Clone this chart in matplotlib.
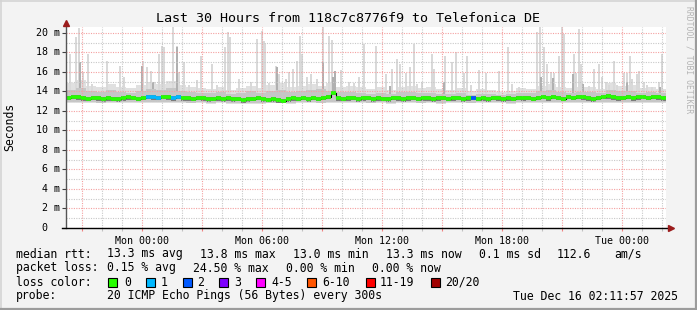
import datetime as dt

import matplotlib
matplotlib.use("Agg")
import matplotlib.dates as mdates
import matplotlib.pyplot as plt
from matplotlib.lines import Line2D
from matplotlib.patches import Rectangle
from matplotlib.ticker import FuncFormatter, MultipleLocator
from matplotlib import transforms

W, H = 697, 310
MONO = "DejaVu Sans Mono"

start = dt.datetime(2025, 12, 14, 20, 11, 57)
end = start + dt.timedelta(hours=30)

# smoke envelope, one value per 30 minutes
band_top = [14.9, 15.2, 14.6, 14.5, 14.8, 14.4, 14.3, 14.7, 15.0, 14.8, 15.1, 14.7,
            14.4, 14.3, 14.2, 14.5, 14.1, 14.3, 14.6, 14.3, 14.7, 14.9, 14.5, 14.6,
            14.8, 14.6, 14.9, 14.5, 14.6, 14.4, 14.2, 14.4, 14.1, 14.5, 14.6, 14.3,
            14.4, 14.2, 14.1, 14.3, 14.0, 14.2, 14.1, 13.9, 14.0, 14.3, 14.2, 14.6,
            14.8, 14.4, 14.3, 14.5, 14.4, 14.2, 14.9, 14.6, 14.7, 14.3, 14.4, 14.2]
band_mid = [14.1, 14.3, 14.0, 13.9, 14.1, 13.9, 13.8, 14.0, 14.2, 14.1, 14.3, 14.0,
            13.9, 13.8, 13.8, 13.9, 13.7, 13.8, 14.0, 13.8, 14.0, 14.1, 13.9, 14.0,
            14.1, 14.2, 14.0, 13.9, 13.9, 13.8, 13.7, 13.8, 13.7, 13.9, 13.9, 13.8,
            13.8, 13.7, 13.7, 13.8, 13.6, 13.7, 13.7, 13.6, 13.7, 13.8, 13.8, 14.0,
            14.1, 13.9, 13.8, 13.9, 13.9, 13.8, 14.1, 14.0, 14.0, 13.8, 13.9, 13.8]
band_bot = [12.80, 12.78, 12.82, 12.76, 12.80, 12.79, 12.81, 12.77, 12.80, 12.83, 12.79, 12.80,
            12.76, 12.78, 12.74, 12.77, 12.72, 12.75, 12.70, 12.73, 12.76, 12.78, 12.75, 12.77,
            12.79, 12.76, 12.78, 12.80, 12.77, 12.79, 12.76, 12.78, 12.75, 12.77, 12.79, 12.76,
            12.78, 12.75, 12.77, 12.79, 12.76, 12.78, 12.80, 12.77, 12.75, 12.78, 12.80, 12.82,
            12.84, 12.80, 12.82, 12.79, 12.81, 12.83, 12.80, 12.85, 12.82, 12.84, 12.81, 12.83]

# median rtt (ms), one value per 15 minutes
median = [13.32, 13.42, 13.38, 13.30, 13.22, 13.34, 13.28, 13.20,
          13.30, 13.26, 13.18, 13.30, 13.40, 13.32, 13.24, 13.36,
          13.42, 13.38, 13.34, 13.44, 13.40, 13.30, 13.42, 13.28,
          13.30, 13.22, 13.32, 13.28, 13.18, 13.24, 13.30, 13.20,
          13.28, 13.18, 13.22, 13.10, 13.20, 13.24, 13.32, 13.20,
          13.12, 13.20, 13.08, 13.02, 13.18, 13.30, 13.22, 13.34,
          13.20, 13.32, 13.24, 13.36, 13.42, 13.84, 13.30, 13.22,
          13.30, 13.34, 13.20, 13.28, 13.32, 13.18, 13.30, 13.26,
          13.20, 13.32, 13.28, 13.18, 13.30, 13.34, 13.22, 13.30,
          13.28, 13.20, 13.30, 13.34, 13.22, 13.28, 13.32, 13.18,
          13.30, 13.34, 13.22, 13.30, 13.20, 13.32, 13.28, 13.18,
          13.30, 13.22, 13.34, 13.28, 13.36, 13.24, 13.32, 13.42,
          13.30, 13.44, 13.34, 13.22, 13.46, 13.32, 13.42, 13.38,
          13.30, 13.20, 13.34, 13.42, 13.50, 13.40, 13.28, 13.36,
          13.44, 13.30, 13.40, 13.46, 13.32, 13.42, 13.38, 13.30]

# slots (15 min) with lost pings and how many were lost
loss_slots = [16, 17, 18, 21, 22, 81]
loss_counts = [1, 1, 1, 1, 1, 2]

# outlier pings: hours after start, top value (ms)
spike_hours = [0.2, 0.5, 0.65, 0.85, 1.1, 1.3, 2.05, 2.7, 2.9, 3.85, 4.05, 4.25, 4.65, 4.8, 4.9,
               5.35, 5.55, 5.65, 5.9, 6.15, 6.55, 6.75, 7.3, 7.55, 7.95, 8.1, 8.2, 8.65, 9.25,
               9.55, 9.8, 9.9, 9.95, 10.15, 10.5, 10.65, 11.0, 11.15, 11.35, 11.55, 11.7, 11.8,
               12.05, 12.25, 12.55, 12.85, 13.15, 13.3, 13.75, 14.15, 14.4, 14.65, 14.9, 15.5,
               16.0, 16.3, 16.55, 16.7, 17.0, 17.2, 17.4, 17.55, 17.8, 18.3, 18.4, 18.95, 19.3,
               19.5, 19.9, 20.05, 20.25, 20.65, 21.0, 21.65, 22.1, 22.3, 22.65, 23.55, 23.7,
               23.9, 24.05, 24.25, 24.4, 24.65, 24.8, 24.9, 25.4, 25.5, 25.65, 25.75, 26.15,
               26.4, 26.65, 26.8, 27.0, 27.15, 27.4, 27.55, 27.9, 28.05, 28.2, 28.3, 28.55,
               28.65, 28.9, 29.05, 29.3, 29.65, 29.8]
spike_tops = [17.8, 19.6, 20.5, 16.0, 17.8, 14.8, 17.1, 16.6, 15.5, 17.1, 16.5, 16.1, 17.8, 18.7, 18.5,
              20.6, 18.7, 16.0, 17.0, 14.7, 15.2, 17.6, 16.8, 14.7, 18.6, 20.1, 19.6, 15.3, 15.0,
              19.4, 20.2, 19.2, 19.0, 14.9, 16.6, 15.8, 15.3, 16.0, 16.3, 17.1, 19.7, 17.8,
              15.5, 15.8, 15.3, 20.7, 19.7, 19.3, 16.2, 15.0, 14.9, 15.5, 18.9, 18.7,
              15.8, 16.3, 17.3, 16.8, 15.9, 16.5, 18.9, 14.8, 15.0, 17.8, 16.3, 17.6, 17.0,
              18.0, 15.9, 17.6, 14.7, 16.2, 15.9, 16.1, 18.6, 14.8, 14.4, 20.1, 20.6,
              18.6, 16.8, 16.0, 15.9, 17.6, 20.6, 19.9, 17.8, 15.9, 20.4, 16.8, 14.6,
              16.3, 16.8, 15.5, 15.0, 14.7, 17.1, 14.7, 15.9, 15.9, 17.6, 15.3, 15.8,
              16.1, 15.0, 14.7, 14.5, 15.0, 17.8]
dark_hours = [0.7, 3.8, 4.35, 5.55, 10.55, 12.85, 13.35, 13.45, 16.2, 18.9, 23.75, 24.35,
              25.35, 25.85, 28.05, 29.7]
dark_tops = [17.0, 16.6, 15.0, 18.6, 16.5, 17.0, 15.5, 16.1, 14.6, 15.0, 15.5, 15.4,
             15.8, 14.8, 15.0, 14.5]

loss_colors = ["#26ff00", "#00b8ff", "#0059ff", "#7e00ff", "#ff00ff", "#ff5500", "#ff0000", "#a10000"]
loss_labels = ["0", "1", "2", "3", "4-5", "6-10", "11-19", "20/20"]


def fx(px):
    return px / W


def fy(py):
    return 1 - py / H


fig = plt.figure(figsize=(W / 100, H / 100), dpi=100, facecolor="#f3f3f3")
ax = fig.add_axes([fx(66), fy(228), 600 / W, 201 / H])
ax.set_facecolor("white")
ax.set_xlim(start, end)
ax.set_ylim(0, 20.6)

# smoke
t30 = [start + dt.timedelta(minutes=30 * i) for i in range(len(band_top) + 1)]
ax.fill_between(t30, band_bot + band_bot[-1:], band_top + band_top[-1:], step="post",
                color="#e0e0e0", lw=0, zorder=1)
ax.bar([start + dt.timedelta(hours=h) for h in spike_hours],
       [v - 13.5 for v in spike_tops], bottom=13.5, width=dt.timedelta(minutes=8),
       color="#d9d9d9", lw=0, zorder=1)
ax.bar([start + dt.timedelta(hours=h) for h in dark_hours],
       [v - 13.5 for v in dark_tops], bottom=13.5, width=dt.timedelta(minutes=5),
       color="#b0b0b0", lw=0, zorder=1.1)
mid_lo = [v + 0.1 for v in band_bot]
ax.fill_between(t30, mid_lo + mid_lo[-1:], band_mid + band_mid[-1:], step="post",
                color="#c6c6c6", lw=0, zorder=1.2)

t15 = [start + dt.timedelta(minutes=15 * i) for i in range(len(median) + 1)]
core_lo = [v - 0.24 for v in median]
core_hi = [v + 0.2 for v in median]
ax.fill_between(t15, core_lo + core_lo[-1:], core_hi + core_hi[-1:], step="post",
                color="#7a7a7a", lw=0, zorder=1.3)

# median line coloured by loss
seg_colors = [loss_colors[0]] * len(median)
for slot, n in zip(loss_slots, loss_counts):
    seg_colors[slot] = loss_colors[n]
ax.step(t15, median + median[-1:], where="post", color="black", lw=0.8, zorder=3)
ax.hlines(median, t15[:-1], t15[1:], colors=seg_colors, lw=2.6, zorder=3.1)

# grid
ax.xaxis.set_major_locator(mdates.HourLocator(byhour=range(0, 24, 3)))
ax.xaxis.set_minor_locator(mdates.HourLocator())


def xfmt(v, pos):
    d = mdates.num2date(v)
    return d.strftime("%a %H:%M") if d.hour % 6 == 0 else ""


ax.xaxis.set_major_formatter(FuncFormatter(xfmt))
ax.yaxis.set_major_locator(MultipleLocator(2))
ax.yaxis.set_minor_locator(MultipleLocator(1))
dots = (0, (1, 1.2))
ax.grid(which="major", color="#f4a0a0", linestyle=dots, lw=0.8)
ax.grid(which="minor", color="#c8c8c8", linestyle=dots, lw=0.8)
ax.set_axisbelow(False)

ax.tick_params(axis="x", which="major", length=2.5, width=0.8, color="#f08080", pad=3,
               labelsize=7.2)
ax.tick_params(axis="x", which="minor", length=2.5, width=0.8, color="#c0c0c0")
ax.tick_params(axis="y", which="major", length=3, width=0.8, color="#404040", labelleft=False)
ax.tick_params(axis="y", which="minor", length=0)
for lab in ax.get_xticklabels():
    lab.set_family(MONO)

ytr = transforms.blended_transform_factory(ax.transAxes, ax.transData)
for v in range(0, 21, 2):
    txt = f"{v:>2} m" if v else " 0"
    ax.text(-30 / 600, v, txt, transform=ytr, ha="left", va="center", family=MONO,
            fontsize=7.2, color="black")

for s in ax.spines.values():
    s.set_visible(False)
ax.plot([0, 0], [0, 1.015], transform=ax.transAxes, color="#555555", lw=1, clip_on=False, zorder=4)
ax.plot([-4 / 600, 1.006], [0, 0], transform=ax.transAxes, color="black", lw=1, clip_on=False, zorder=4)
ax.plot([0], [1.02], marker="^", ms=4.5, color="#9b1c1c", transform=ax.transAxes, clip_on=False, zorder=5)
ax.plot([1.008], [0], marker=">", ms=4.5, color="#9b1c1c", transform=ax.transAxes, clip_on=False, zorder=5)

# titles
fig.text(fx(348), fy(19), "Last 30 Hours from 118c7c8776f9 to Telefonica DE", ha="center",
         va="center", family=MONO, fontsize=9.6)
fig.text(fx(10), fy(127), "Seconds", rotation=90, ha="center", va="center", family=MONO,
         fontsize=8.3)
fig.text(fx(689), fy(60), "RRDTOOL / TOBI OETIKER", rotation=270, ha="center", va="center",
         family=MONO, fontsize=5.8, color="#b4b4b4")

# legend
rows = [
    (254, [(16, "median rtt:"), (107, "13.3 ms avg"), (200, "13.8 ms max"), (293, "13.0 ms min"),
           (386, "13.3 ms now"), (479, "0.1 ms sd"), (557, "112.6"), (614, "am/s")]),
    (268, [(16, "packet loss:"), (107, "0.15 % avg"), (193, "24.50 % max"), (286, "0.00 % min"),
           (372, "0.00 % now")]),
    (282, [(16, "loss color:")]),
    (296, [(16, "probe:"), (107, "20 ICMP Echo Pings (56 Bytes) every 300s"),
           (513, "Tue Dec 16 02:11:57 2025")]),
]
for y, parts in rows:
    for x, s in parts:
        fig.text(fx(x), fy(y), s, ha="left", va="center", family=MONO, fontsize=8.3)

box_x = [108, 146, 183, 219, 256, 307, 366, 431]
lab_x = [124, 161, 197, 234, 271, 322, 380, 445]
for bx, lx, c, s in zip(box_x, lab_x, loss_colors, loss_labels):
    fig.add_artist(Rectangle((fx(bx), fy(287)), 9 / W, 9 / H, transform=fig.transFigure,
                             facecolor=c, edgecolor="black", lw=0.8))
    fig.text(fx(lx), fy(282), s, ha="left", va="center", family=MONO, fontsize=8.3)

# frame
fig.add_artist(Line2D([0, 1], [fy(0.5), fy(0.5)], transform=fig.transFigure, color="#d4d4d4", lw=1.2))
fig.add_artist(Line2D([fx(0.5), fx(0.5)], [0, 1], transform=fig.transFigure, color="#d4d4d4", lw=1.2))
fig.add_artist(Line2D([0, 1], [fy(309), fy(309)], transform=fig.transFigure, color="#9c9c9c", lw=1.6))
fig.add_artist(Line2D([fx(696), fx(696)], [0, 1], transform=fig.transFigure, color="#9c9c9c", lw=1.6))

fig.savefig("out.png", dpi=100, facecolor=fig.get_facecolor())
